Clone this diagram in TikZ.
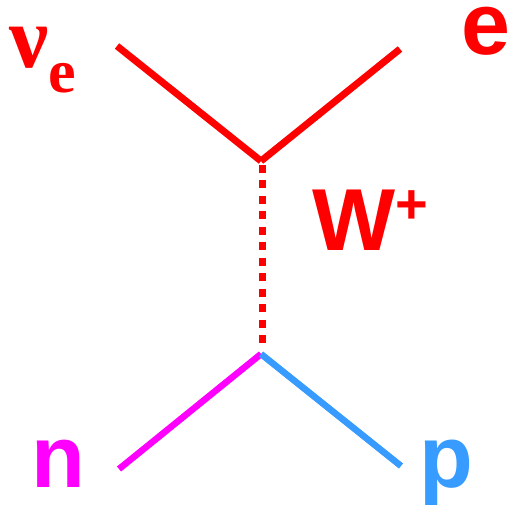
\documentclass[tikz,border=0pt]{standalone}
\usepackage{fontspec}
\setmainfont{Liberation Sans}
\newfontfamily\timesfont{Liberation Serif}
\usetikzlibrary{calc}
\definecolor{wred}{RGB}{255,0,0}
\definecolor{nmag}{RGB}{255,0,255}
\definecolor{pblue}{RGB}{55,155,255}
\tikzset{
  lepton/.style={wred, line width=7pt},
  boson/.style={wred, line width=7pt, dash pattern=on 8pt off 7.45pt},
  nucleon/.style={line width=6.5pt},
  lbl/.style={inner sep=0pt, anchor=base west, font=\fontsize{88}{88}\selectfont\bfseries}
}

\begin{document}
\begin{tikzpicture}[x=1pt, y=-1pt]
\useasboundingbox (0,0) rectangle (508,504);

% --- vertices and free ends ---
\coordinate (topv)  at (261,161);
\coordinate (botv)  at (261,354);
\coordinate (wtop)  at (262,165);
\coordinate (wbot)  at (262,343);
\coordinate (nuend) at (117,46);
\coordinate (eend)  at (400,49);
\coordinate (nend)  at (119,469);
\coordinate (pend)  at (401,466);

% --- lines ---
\draw[lepton] (nuend) -- (topv);
\draw[lepton] (topv) -- (eend);
\draw[boson]  (wtop) -- (wbot);
\draw[nucleon, nmag]  (nend) -- (botv);
\draw[nucleon, pblue] (botv) -- (pend);

% --- labels ---
\node[lbl, wred] (nulbl) at (9,67)
  {\timesfont ν\raisebox{-25pt}{\fontsize{62}{62}\selectfont e}};
\node[lbl, wred] (elbl) at (461,54) {e};
\node[lbl, wred] (wlbl) at (312,250)
  {W\raisebox{27pt}{\fontsize{56}{56}\selectfont +}};
\node[lbl, nmag]  (nlbl) at (31,487) {n};
\node[lbl, pblue] (plbl) at (419,487) {p};

\end{tikzpicture}
\end{document}
